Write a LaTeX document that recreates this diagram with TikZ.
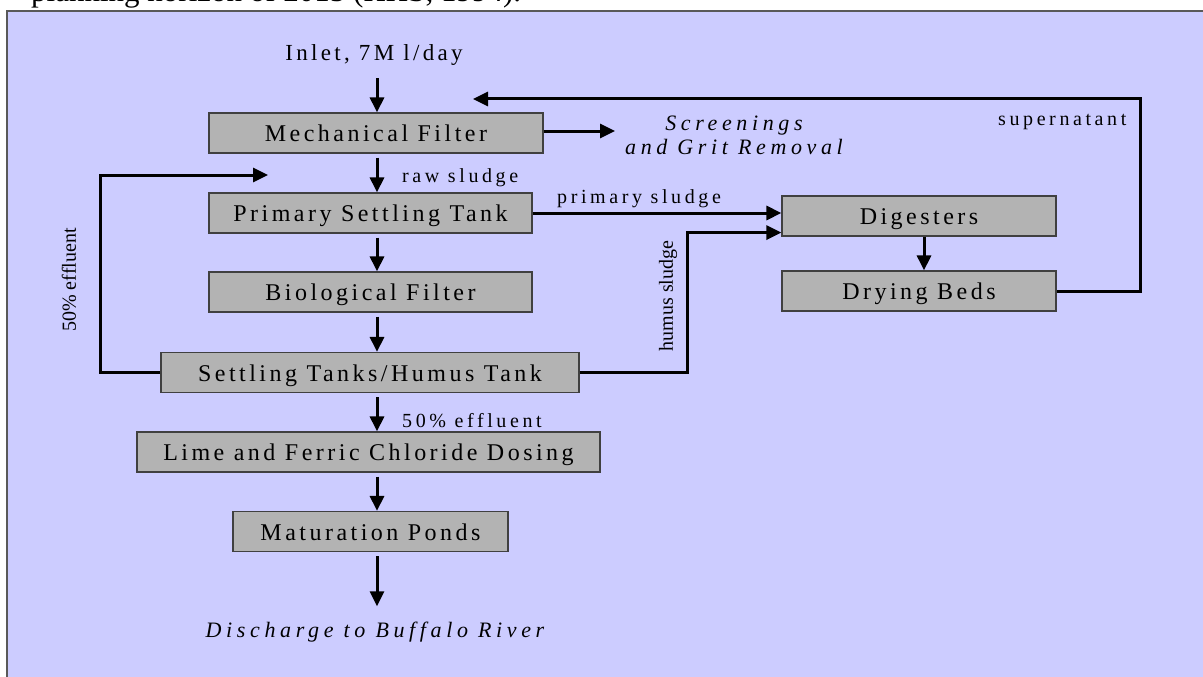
\documentclass[tikz,border=0pt]{standalone}
\usepackage{fontspec}
\setmainfont{Liberation Serif}
\newfontfamily\boxfont[LetterSpace=14.5]{Liberation Serif}
\newfontfamily\lblfont[LetterSpace=18]{Liberation Serif}
\newfontfamily\notefont[LetterSpace=21]{Liberation Serif}
\usetikzlibrary{arrows.meta}
\definecolor{panelblue}{HTML}{CCCCFF}
\definecolor{boxgray}{HTML}{B3B3B3}

\begin{document}
\begin{tikzpicture}[x=1pt,y=-1pt,
  stage/.style={draw=black!75, fill=boxgray, line width=1.2pt, inner sep=0pt,
    minimum height=40pt, text height=17pt, text depth=0pt,
    font=\boxfont\fontsize{24}{28}\selectfont},
  flow/.style={line width=3pt, -{Triangle[length=15pt,width=14pt]}},
  lbl/.style={inner sep=0pt, anchor=base west, font=\lblfont\fontsize{20}{24}\selectfont},
  note/.style={inner sep=0pt, anchor=base, font=\notefont\itshape\fontsize{22}{26}\selectfont},
  rot/.style={inner sep=0pt, rotate=90, font=\fontsize{20}{24}\selectfont},
]
\useasboundingbox (0,0) rectangle (1203,677);
\clip (0,0) rectangle (1203,677);

% caption line above the figure
\node[anchor=base west, inner sep=0pt, font=\fontsize{31}{36}\selectfont] (cap) at (31,1.5)
  {planning horizon of 2015 (HHS, 1994).};

% background panel
\fill[panelblue] (7,11) rectangle (1230,700);
\draw[black!65, line width=1.5pt] (7,700) -- (7,11) -- (1230,11);

% column of the main flow
\coordinate (colx) at (377,0);
\coordinate (dbx) at (924,0);

% process stages
\node[stage, minimum width=334pt] (mf)   at (376,133)   {Mechanical Filter};
\node[stage, minimum width=323pt] (pst)  at (370.5,213) {Primary Settling Tank};
\node[stage, minimum width=323pt] (bf)   at (370.5,292) {Biological Filter};
\node[stage, minimum width=418pt] (st)   at (370,372.5) {Settling Tanks/Humus Tank};
\node[stage, minimum width=463pt] (lime) at (368.5,452) {Lime and Ferric Chloride Dosing};
\node[stage, minimum width=275pt] (mp)   at (370.5,531.5) {Maturation Ponds};
\node[stage, minimum width=274pt] (dig)  at (919,216)   {Digesters};
\node[stage, minimum width=274pt] (db)   at (919,291)   {Drying Beds};

% inlet and outlet texts
\node[inner sep=0pt, anchor=base, font=\boxfont\fontsize{23}{27}\selectfont] (inlet) at (374,61) {Inlet, 7M l/day};
\node[note] (dis) at (375,637) {Discharge to Buffalo River};
\node[note] (scr1) at (734,130) {Screenings};
\node[note] (scr2) at (734,154) {and Grit Removal};

% flow labels
\node[lbl] (rawlbl) at (402,182) {raw sludge};
\node[lbl] (prilbl) at (557,203) {primary sludge};
\node[lbl] (efflbl) at (402,427) {50\% effluent};
\node[lbl] (suplbl) at (998,125) {supernatant};
\node[rot] (reclbl) at (69,280) {50\% effluent};
\node[rot] (humlbl) at (668,296) {humus sludge};

% main flow arrows
\draw[flow, shorten <=12pt] (inlet.south -| colx) -- (mf.north -| colx);
\draw[flow, shorten <=4pt] (mf.south -| colx) -- (pst.north -| colx);
\draw[flow, shorten <=4pt] (pst.south -| colx) -- (bf.north -| colx);
\draw[flow, shorten <=4pt] (bf.south -| colx) -- (st.north -| colx);
\draw[flow, shorten <=4pt] (st.south -| colx) -- (lime.north -| colx);
\draw[flow, shorten <=4pt] (lime.south -| colx) -- (mp.north -| colx);
\draw[flow, shorten <=4pt, shorten >=15pt] (mp.south -| colx) -- (dis.north -| colx);

% screenings
\coordinate (scrtip) at (615,131);
\draw[flow] (mf.east |- scrtip) -- (scrtip);

% recirculation of half the effluent
\coordinate (rtip) at (268,175);
\draw[flow] (st.west) -- ++(-60,0) |- (rtip);

% sludge lines
\draw[flow] (pst.east) -- (pst.east -| dig.west);
\draw[flow] (st.east) -- ++(108,0) |- ([yshift=4pt]dig.south west);
\draw[flow] (dig.south -| dbx) -- (db.north -| dbx);

% supernatant return
\coordinate (suptip) at (473,99);
\draw[flow] (db.east) -- ++(84,0) |- (suptip);
\end{tikzpicture}
\end{document}
